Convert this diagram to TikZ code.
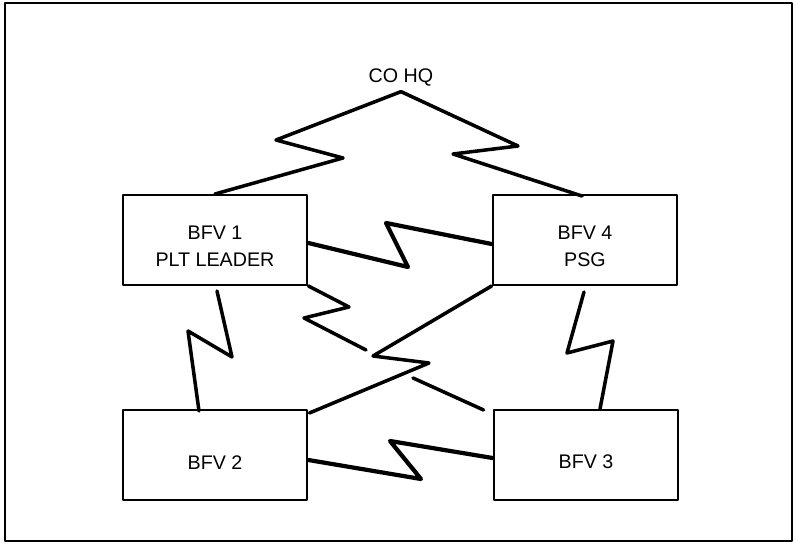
\documentclass[tikz,border=0pt]{standalone}
\usepackage{fontspec}
\setmainfont{Liberation Sans}
\usetikzlibrary{calc}
\tikzset{
  vehicle/.style={draw, line width=1.4pt, minimum width=4.62cm, minimum height=2.25cm, inner sep=0pt},
  radio/.style={line width=2.5pt},
  radiothick/.style={line width=3pt},
}
\begin{document}
\begin{tikzpicture}[x=0.025cm, y=-0.025cm, font=\fontsize{14}{19}\selectfont, line join=round, line cap=round]
  \useasboundingbox (0,0) rectangle (796,544);
  \draw[line width=1.8pt] (5,3) rectangle (792,541);
  % platoon vehicles
  \node[inner sep=4pt] (cohq) at (401,77) {CO HQ};
  \node[vehicle, label={[yshift=-0.15cm, align=center]center:BFV 1\\PLT LEADER}] (bfv1) at (215,240) {};
  \node[vehicle, label={[yshift=-0.15cm, align=center]center:BFV 4\\PSG}] (bfv4) at (585,240) {};
  \node[vehicle, label={[yshift=-0.18cm]center:BFV 2}] (bfv2) at (215,455) {};
  \node[vehicle, label={[yshift=-0.18cm]center:BFV 3}] (bfv3) at (586,455) {};
  % radio nets
  \draw[radio] (cohq.south) -- (276,140) -- (343,158) -- (bfv1.north);
  \draw[radio] (cohq.south) -- (518,146) -- (453,154) -- ($(bfv4.north)+(-3,2)$);
  \draw[radiothick] ($(bfv1.east)+(0,3)$) -- (408,267) -- (386,223) -- ($(bfv4.west)+(0,4)$);
  \draw[radio] ($(bfv1.south)+(2,5)$) -- (232,357) -- (188,331) -- ($(bfv2.north)+(-16,2)$);
  \draw[radio] ($(bfv4.south)+(-1,6)$) -- (567,353) -- (613,341) -- ($(bfv3.north)+(14,0)$);
  \draw[radiothick] ($(bfv2.east)+(0,5)$) -- (421,479) -- (390,441) -- ($(bfv3.west)+(0,3)$);
  \draw[radio] (bfv1.south east) -- (349,307) -- (304,318) -- (366,350)
    (413,378) -- ($(bfv3.north west)+(-9,1)$);
  \draw[radio] (bfv4.south west) -- (373,356) -- (429,363) -- ($(bfv2.north east)+(1,4)$);
\end{tikzpicture}
\end{document}
